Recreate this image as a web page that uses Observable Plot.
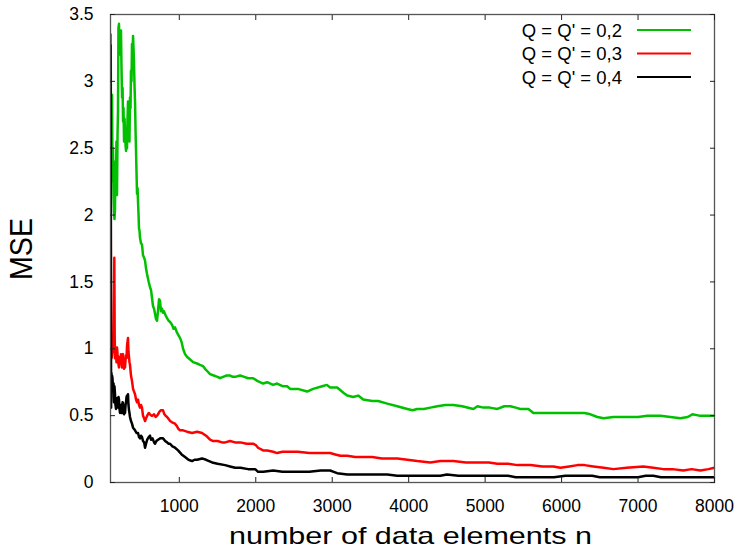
<!DOCTYPE html>
<html>
<head>
<meta charset="utf-8">
<script src="https://cdn.jsdelivr.net/npm/d3@7"></script>
<script src="https://cdn.jsdelivr.net/npm/@observablehq/plot@0.6"></script>
<style>
  body { margin: 0; background: #fff; }
  #chart { position: relative; width: 737px; height: 550px; }
</style>
</head>
<body>
<div id="chart"></div>
<script>
// ---- data: [n, MSE] ----
const green = [[100,3.05],[103,3.35],[105,2.90],[108,2.50],[112,2.85],[116,2.55],[120,2.90],[125,2.40],[130,2.25],[133,2.50],[140,2.15],[146,2.02],[152,1.97],[159,2.05],[165,2.40],[172,2.30],[178,2.55],[185,2.15],[192,2.60],[198,2.78],[204,3.40],[211,3.43],[218,3.20],[224,3.36],[231,3.30],[237,3.38],[244,3.10],[251,2.88],[258,2.95],[264,2.70],[270,2.80],[277,2.55],[284,2.72],[290,2.62],[297,2.52],[303,2.48],[310,2.60],[316,2.50],[322,2.70],[329,2.85],[335,2.60],[342,2.66],[348,2.55],[355,2.88],[362,2.80],[368,3.08],[375,3.00],[381,3.28],[388,3.20],[395,3.34],[401,3.25],[408,3.12],[415,2.95],[421,2.85],[428,2.62],[434,2.48],[441,2.30],[447,2.16],[454,2.20],[460,2.10],[467,2.00],[473,1.90],[480,1.88],[486,1.83],[499,1.79],[512,1.78],[525,1.70],[540,1.68],[552,1.66],[565,1.60],[578,1.56],[600,1.50],[617,1.46],[630,1.44],[643,1.38],[656,1.32],[670,1.30],[683,1.26],[696,1.22],[709,1.21],[722,1.29],[735,1.37],[748,1.36],[760,1.28],[774,1.30],[787,1.27],[800,1.28],[820,1.25],[840,1.23],[860,1.21],[880,1.20],[905,1.18],[925,1.15],[944,1.16],[970,1.12],[990,1.10],[1010,1.08],[1030,1.05],[1049,1.00],[1075,0.96],[1100,0.94],[1141,0.92],[1180,0.90],[1232,0.89],[1270,0.88],[1311,0.87],[1337,0.85],[1370,0.83],[1402,0.81],[1450,0.80],[1500,0.79],[1533,0.78],[1573,0.79],[1620,0.80],[1664,0.80],[1700,0.79],[1730,0.79],[1795,0.80],[1850,0.79],[1900,0.78],[1965,0.78],[2020,0.76],[2096,0.74],[2150,0.75],[2227,0.73],[2279,0.74],[2350,0.72],[2410,0.72],[2450,0.70],[2550,0.70],[2672,0.68],[2750,0.70],[2869,0.72],[2930,0.73],[2973,0.71],[3065,0.71],[3150,0.67],[3197,0.65],[3274,0.64],[3340,0.65],[3405,0.62],[3523,0.61],[3600,0.61],[3720,0.59],[3851,0.57],[3982,0.55],[4050,0.54],[4112,0.55],[4200,0.55],[4283,0.56],[4375,0.57],[4480,0.58],[4584,0.58],[4700,0.57],[4846,0.55],[4900,0.57],[4977,0.56],[5060,0.56],[5160,0.55],[5250,0.57],[5330,0.57],[5400,0.56],[5461,0.55],[5566,0.55],[5631,0.52],[5750,0.52],[5893,0.52],[6000,0.52],[6150,0.52],[6300,0.52],[6377,0.51],[6468,0.49],[6550,0.48],[6678,0.49],[6800,0.49],[6900,0.49],[7000,0.49],[7123,0.50],[7200,0.50],[7293,0.50],[7423,0.49],[7554,0.48],[7650,0.49],[7711,0.51],[7800,0.50],[7900,0.50],[8000,0.50]];

const red = [[100,2.56],[103,2.00],[106,1.40],[110,1.00],[113,0.93],[120,0.95],[130,1.00],[140,0.98],[146,1.40],[150,1.68],[155,1.10],[159,0.93],[165,1.00],[172,0.98],[178,0.90],[185,1.01],[192,0.96],[198,0.93],[205,0.88],[211,0.86],[218,0.92],[224,0.94],[231,0.90],[237,0.96],[244,0.90],[251,0.86],[258,0.95],[264,0.96],[270,0.88],[277,0.85],[284,0.88],[290,0.86],[297,0.92],[303,0.95],[310,0.93],[316,1.02],[322,1.05],[329,1.08],[335,0.98],[342,0.94],[348,0.90],[355,0.88],[368,0.80],[381,0.76],[395,0.70],[408,0.68],[421,0.66],[434,0.62],[447,0.60],[460,0.62],[473,0.58],[486,0.56],[499,0.58],[512,0.56],[525,0.50],[540,0.48],[552,0.46],[565,0.48],[580,0.50],[600,0.52],[617,0.51],[635,0.50],[650,0.50],[670,0.51],[690,0.49],[709,0.50],[722,0.51],[740,0.53],[760,0.54],[787,0.54],[805,0.51],[820,0.50],[840,0.49],[853,0.48],[880,0.46],[905,0.45],[944,0.44],[970,0.42],[990,0.40],[1010,0.39],[1049,0.39],[1100,0.38],[1167,0.37],[1232,0.38],[1298,0.37],[1350,0.35],[1402,0.32],[1442,0.31],[1500,0.31],[1560,0.30],[1599,0.30],[1664,0.31],[1730,0.30],[1800,0.30],[1880,0.29],[1965,0.29],[2000,0.28],[2030,0.26],[2096,0.24],[2150,0.24],[2227,0.23],[2279,0.22],[2350,0.23],[2450,0.23],[2550,0.23],[2700,0.22],[2850,0.22],[2973,0.22],[3040,0.21],[3105,0.20],[3197,0.20],[3300,0.19],[3405,0.19],[3523,0.19],[3650,0.18],[3851,0.18],[3982,0.17],[4112,0.16],[4283,0.15],[4414,0.16],[4584,0.16],[4750,0.15],[4938,0.15],[5050,0.15],[5160,0.14],[5300,0.14],[5422,0.13],[5592,0.13],[5750,0.12],[5893,0.12],[5984,0.11],[6100,0.12],[6207,0.13],[6300,0.13],[6416,0.12],[6550,0.11],[6678,0.10],[6850,0.11],[7070,0.12],[7200,0.11],[7332,0.10],[7450,0.10],[7593,0.09],[7700,0.10],[7816,0.09],[7920,0.10],[8000,0.11]];

const black = [[100,3.27],[102,3.00],[104,2.76],[106,1.20],[108,0.56],[112,0.82],[116,0.70],[120,0.80],[126,0.78],[133,0.70],[140,0.74],[146,0.60],[152,0.72],[159,0.66],[165,0.58],[172,0.55],[178,0.63],[185,0.62],[192,0.56],[198,0.60],[205,0.64],[211,0.62],[218,0.55],[224,0.52],[231,0.56],[237,0.58],[244,0.52],[251,0.54],[258,0.60],[264,0.59],[270,0.52],[277,0.51],[284,0.55],[290,0.52],[297,0.58],[303,0.60],[310,0.64],[316,0.65],[322,0.60],[329,0.66],[335,0.58],[342,0.54],[348,0.52],[355,0.49],[368,0.46],[381,0.44],[395,0.41],[408,0.40],[421,0.39],[440,0.37],[460,0.37],[473,0.34],[486,0.33],[499,0.35],[512,0.34],[525,0.31],[540,0.30],[552,0.26],[565,0.29],[580,0.32],[600,0.34],[617,0.35],[630,0.32],[650,0.33],[670,0.30],[683,0.29],[700,0.31],[722,0.32],[750,0.33],[787,0.33],[815,0.31],[840,0.30],[860,0.29],[879,0.29],[910,0.27],[944,0.26],[984,0.24],[1030,0.21],[1075,0.19],[1120,0.17],[1167,0.16],[1200,0.17],[1232,0.17],[1298,0.18],[1350,0.17],[1429,0.15],[1500,0.14],[1599,0.13],[1664,0.12],[1730,0.11],[1800,0.11],[1900,0.10],[1992,0.10],[2030,0.08],[2100,0.08],[2227,0.09],[2350,0.08],[2450,0.08],[2600,0.08],[2700,0.08],[2850,0.09],[2973,0.09],[3020,0.08],[3065,0.07],[3197,0.06],[3300,0.06],[3405,0.06],[3550,0.06],[3720,0.06],[3850,0.05],[3982,0.05],[4150,0.05],[4414,0.05],[4500,0.06],[4650,0.05],[4850,0.05],[5000,0.05],[5160,0.05],[5300,0.05],[5400,0.04],[5600,0.04],[5900,0.04],[6050,0.05],[6200,0.05],[6400,0.05],[6500,0.04],[6800,0.04],[7000,0.04],[7100,0.05],[7200,0.05],[7300,0.04],[7600,0.04],[8000,0.04]];

const seriesLabels = ["Q = Q' = 0,2", "Q = Q' = 0,3", "Q = Q' = 0,4"];
const seriesColors = ["#00c000", "#ff0000", "#000000"];
const xTicks = [1000, 2000, 3000, 4000, 5000, 6000, 7000, 8000];
const yTicks = [0, 0.5, 1, 1.5, 2, 2.5, 3, 3.5];
const xLabel = "number of data elements n";
const yLabel = "MSE";

const font = "'Liberation Sans', Arial, Helvetica, sans-serif";
const rows = arr => arr.map(([n, v]) => ({n, v}));
const seriesData = [green, red, black];

const plot = Plot.plot({
  width: 737,
  height: 550,
  marginLeft: 110,
  marginRight: 23,
  marginTop: 14,
  marginBottom: 68,
  style: {fontFamily: font, background: "#fff", color: "#000", overflow: "visible"},
  x: {domain: [100, 8000]},
  y: {domain: [0, 3.5]},
  marks: [
    ...seriesData.map((s, i) => Plot.line(rows(s), {x: "n", y: "v", stroke: seriesColors[i], strokeWidth: 2.5, clip: true})),
    Plot.frame({stroke: "#555", strokeWidth: 1.3}),
    Plot.axisX(xTicks, {anchor: "bottom", tickSize: 0, tickPadding: 17, fontSize: 17.5, tickFormat: d => String(d), label: null}),
    Plot.axisX(xTicks, {anchor: "bottom", tickSize: -5, tickFormat: () => "", label: null, stroke: "#222"}),
    Plot.axisX(xTicks, {anchor: "top", tickSize: -5, tickFormat: () => "", label: null, stroke: "#222"}),
    Plot.axisY(yTicks, {anchor: "left", tickSize: 0, tickPadding: 17, fontSize: 17.5, tickFormat: d => String(d), label: null}),
    Plot.axisY(yTicks, {anchor: "left", tickSize: -5, tickFormat: () => "", label: null, stroke: "#222"}),
    Plot.axisY(yTicks, {anchor: "right", tickSize: -5, tickFormat: () => "", label: null, stroke: "#222"})
  ]
});

const svg = d3.select(plot);

// axis titles
svg.append("text")
  .attr("x", 410.5).attr("y", 544)
  .attr("text-anchor", "middle")
  .attr("font-size", 24).attr("font-family", font).attr("fill", "#000")
  .attr("textLength", 363).attr("lengthAdjust", "spacingAndGlyphs")
  .text(xLabel);

svg.append("text")
  .attr("transform", "translate(31.5,249) rotate(-90)")
  .attr("text-anchor", "middle")
  .attr("font-size", 31).attr("font-family", font).attr("fill", "#000")
  .attr("textLength", 62).attr("lengthAdjust", "spacingAndGlyphs")
  .text(yLabel);

// legend (inside top-right, gnuplot style)
const leg = svg.append("g").attr("font-family", font).attr("font-size", 18.5);
seriesLabels.forEach((lab, i) => {
  const yy = 30 + 23.5 * i;
  leg.append("text").attr("x", 622).attr("y", yy).attr("text-anchor", "end")
    .attr("dominant-baseline", "central").attr("fill", "#000").text(lab);
  leg.append("line").attr("x1", 637).attr("x2", 691).attr("y1", yy).attr("y2", yy)
    .attr("stroke", seriesColors[i]).attr("stroke-width", 2.2);
});

document.getElementById("chart").appendChild(plot);
</script>
</body>
</html>
